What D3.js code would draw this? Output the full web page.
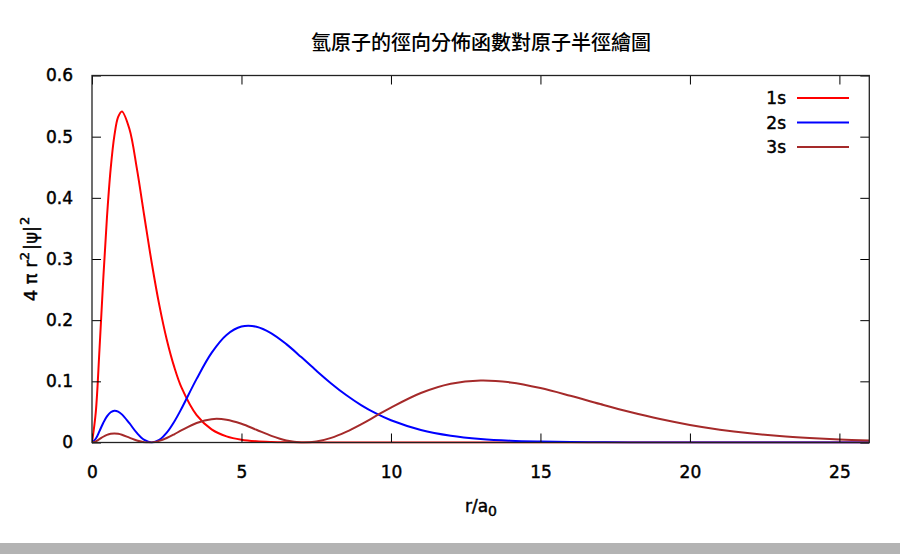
<!DOCTYPE html>
<html><head><meta charset="utf-8">
<script src="https://cdn.jsdelivr.net/npm/d3@7"></script>
<style>body{margin:0;background:#fff;}svg{display:block;}</style>
</head><body>
<div id="chart"></div>
<script>
// r / a0 sample positions
const radii = [0,0.125,0.25,0.375,0.5,0.625,0.75,0.875,1,1.25,1.5,1.75,2,2.25,2.5,2.75,3,3.5,4,4.5,5,5.5,6,6.5,7,7.5,8,8.5,9,9.5,10,11,12,13,14,15,16,17,18,19,20,21,22,23,24,25,26];
const p1s = [0,0.0487,0.1516,0.2657,0.3679,0.4477,0.5020,0.5322,0.5413,0.5130,0.4481,0.3699,0.2931,0.2250,0.1684,0.1236,0.0892,0.0447,0.0215,0.0100,0.0045,0.0020,0.0009,0.0004,0.0002,0.0001,0.00003,0,0,0,0,0,0,0,0,0,0,0,0,0,0,0,0,0,0,0,0];
const p2s = [0,0.0061,0.0186,0.0319,0.0427,0.0494,0.0519,0.0505,0.0460,0.0315,0.0157,0.0042,0,0.0042,0.0160,0.0340,0.0560,0.1040,0.1465,0.1758,0.1895,0.1893,0.1785,0.1608,0.1396,0.1176,0.0966,0.0776,0.0612,0.0475,0.0363,0.0205,0.0111,0.0058,0.0029,0.0015,0.0007,0.0003,0.0002,0.0001,0.00003,0.00001,0,0,0,0,0];
const p3s = [0,0.0018,0.0055,0.0094,0.0125,0.0143,0.0148,0.0142,0.0126,0.0080,0.0034,0.0005,0.0002,0.0026,0.0073,0.0134,0.0201,0.0319,0.0382,0.0373,0.0306,0.0208,0.0109,0.0034,0.0001,0.0016,0.0076,0.0174,0.0297,0.0434,0.0571,0.0810,0.0962,0.1014,0.0982,0.0890,0.0764,0.0628,0.0498,0.0383,0.0287,0.0210,0.0151,0.0106,0.0074,0.0050,0.0034];
const seriesNames = ["1s","2s","3s"];
const seriesColors = ["#ff0000","#0000ff","#a52a2a"];
const xTicks = [0,5,10,15,20,25];
const yTicks = [0,0.1,0.2,0.3,0.4,0.5,0.6];
const titleText = "氫原子的徑向分佈函數對原子半徑繪圖";

const W = 900, H = 554;
const m = {left:92, right:900-869.3, top:75.5, bottom:554-442.5};
const svg = d3.select("#chart").append("svg").attr("width",W).attr("height",H);
const x = d3.scaleLinear().domain([0,26]).range([m.left, W-m.right]);
const y = d3.scaleLinear().domain([0,0.6]).range([H-m.bottom, m.top]);
const font = "'DejaVu Sans', Verdana, sans-serif";
const heavy = s => s.attr("stroke","#000").attr("stroke-width",0.45).attr("paint-order","stroke");

// bottom gray band
svg.append("rect").attr("x",0).attr("y",543).attr("width",W).attr("height",11).attr("fill","#b3b3b3");

// title
svg.append("text").attr("x",481).attr("y",50).attr("text-anchor","middle")
  .attr("font-family","'Noto Sans CJK TC', sans-serif").attr("font-size",20).attr("font-weight",500).attr("fill","#000")
  .text(titleText);

// curves
const data = [p1s,p2s,p3s];
const line = d3.line().x(d=>x(d[0])).y(d=>y(d[1])).curve(d3.curveCatmullRom.alpha(0.5));
svg.append("clipPath").attr("id","clip").append("rect")
  .attr("x",m.left).attr("y",m.top-2).attr("width",x(26)-m.left).attr("height",y(0)-m.top+3);
data.forEach((vals,i)=>{
  const pts = radii.map((r,j)=>[r,vals[j]]);
  svg.append("path").attr("d",line(pts)).attr("fill","none")
    .attr("stroke",seriesColors[i]).attr("stroke-width",2).attr("clip-path","url(#clip)");
});

// axes with inward ticks (mirrored)
const tl = 9;
const gB = svg.append("g").attr("transform",`translate(0,${y(0)})`)
  .call(d3.axisBottom(x).tickValues(xTicks).tickSize(-tl).tickPadding(tl+14).tickFormat(d3.format("d")));
const gT = svg.append("g").attr("transform",`translate(0,${y(0.6)})`)
  .call(d3.axisTop(x).tickValues(xTicks).tickSize(-tl).tickFormat(""));
const gL = svg.append("g").attr("transform",`translate(${x(0)},0)`)
  .call(d3.axisLeft(y).tickValues(yTicks).tickSize(-tl).tickPadding(tl+10).tickFormat(d=>d===0?"0":d3.format(".1f")(d)));
const gR = svg.append("g").attr("transform",`translate(${x(26)},0)`)
  .call(d3.axisRight(y).tickValues(yTicks).tickSize(-tl).tickFormat(""));
[gB,gT,gL,gR].forEach(g=>{
  g.select(".domain").remove();
  g.selectAll(".tick line").attr("stroke","#000").attr("stroke-width",1);
  g.selectAll("text").attr("font-family",font).attr("font-size",17).attr("fill","#000").call(heavy);
});
svg.append("rect").attr("x",x(0)).attr("y",y(0.6)).attr("width",x(26)-x(0)).attr("height",y(0)-y(0.6))
  .attr("fill","none").attr("stroke","#222").attr("stroke-width",1.3);

// axis titles
svg.append("text").attr("x",481).attr("y",512).attr("text-anchor","middle")
  .attr("font-family",font).attr("font-size",17).attr("fill","#000").call(heavy)
  .call(t=>{t.append("tspan").text("r/a");t.append("tspan").attr("dy",4).attr("font-size",14).text("0");});
const yl = svg.append("text").attr("transform","translate(37,259) rotate(-90)").attr("text-anchor","middle")
  .attr("font-family",font).attr("font-size",18).attr("fill","#000").call(heavy);
yl.append("tspan").text("4 π r");
yl.append("tspan").attr("dy",-8).attr("font-size",13).text("2");
yl.append("tspan").attr("dy",8).attr("dx",2).text("|ψ|");
yl.append("tspan").attr("dy",-8).attr("dx",1).attr("font-size",13).text("2");

// legend
seriesNames.forEach((n,i)=>{
  const yy = 98 + i*24.5;
  svg.append("text").attr("x",786).attr("y",yy+6).attr("text-anchor","end")
    .attr("font-family",font).attr("font-size",17).attr("fill","#000").call(heavy).text(n);
  svg.append("line").attr("x1",797).attr("x2",849).attr("y1",yy).attr("y2",yy)
    .attr("stroke",seriesColors[i]).attr("stroke-width",2);
});
</script>
</body></html>
